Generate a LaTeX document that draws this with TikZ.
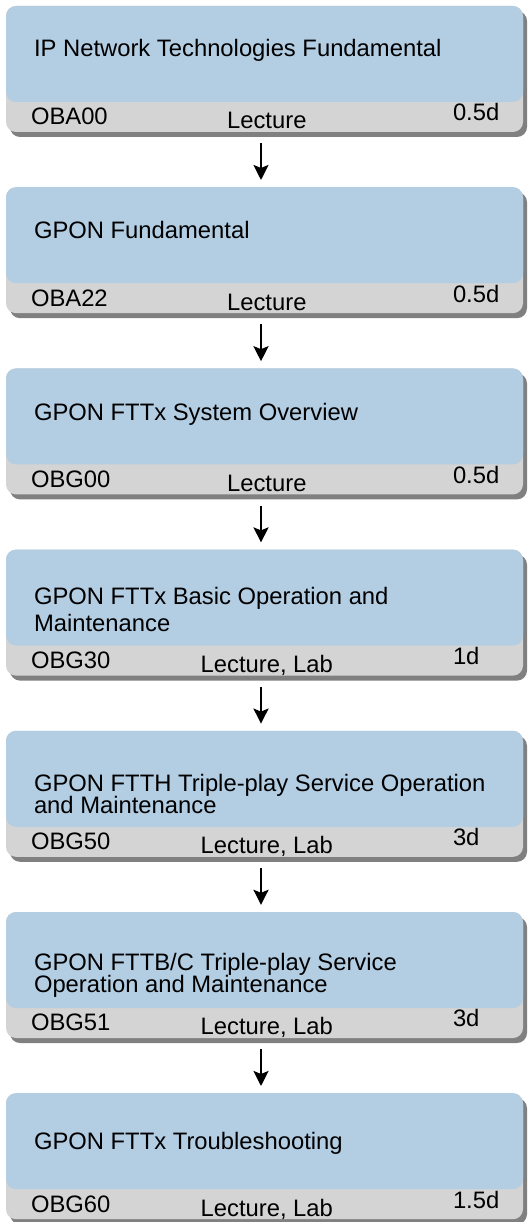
\documentclass[tikz,border=0pt]{standalone}
\usepackage{fontspec}
\setmainfont{Liberation Sans}
\usetikzlibrary{arrows.meta, shadows, positioning}
\definecolor{CourseBlue}{RGB}{179,205,227}
\definecolor{BarGrey}{RGB}{212,212,212}
\definecolor{ShadowGrey}{RGB}{128,128,128}

\begin{document}
\begin{tikzpicture}[x=1pt, y=1pt,
    course/.style={rectangle, rounded corners=10pt, fill=BarGrey,
        minimum width=517pt, minimum height=126pt, inner sep=0pt,
        drop shadow={shadow xshift=4pt, shadow yshift=-5pt, fill=ShadowGrey, opacity=1},
        path picture={\fill[CourseBlue] (path picture bounding box.north west)
            rectangle ([yshift=30pt]path picture bounding box.south east);}},
    txt/.style={inner sep=0pt, font=\fontsize{23.8}{27}\selectfont},
    flow/.style={-{Stealth[length=15pt, width=15pt, inset=3pt]}, line width=2.5pt,
        shorten <=11pt, shorten >=7pt}]
  \useasboundingbox (0,0) rectangle (530,-1222);

  % course boxes (\tb = baseline of the last title line)
  \foreach \i/\ttl/\tb/\code/\mode/\dur in {
      0/{IP Network Technologies Fundamental}/51/OBA00/Lecture/0.5d,
      1/{GPON Fundamental}/52/OBA22/Lecture/0.5d,
      2/{GPON FTTx System Overview}/52/OBG00/Lecture/0.5d,
      3/{GPON FTTx Basic Operation and\\Maintenance}/82/OBG30/{Lecture, Lab}/1d,
      4/{GPON FTTH Triple-play Service Operation\\[-5pt]and Maintenance}/83/OBG50/{Lecture, Lab}/3d,
      5/{GPON FTTB/C Triple-play Service\\[-5pt]Operation and Maintenance}/81/OBG51/{Lecture, Lab}/3d,
      6/{GPON FTTx Troubleshooting}/56/OBG60/{Lecture, Lab}/1.5d}{
    \node[course] (box\i) at (264.5,-69-181.2*\i) {};
    \node[txt, anchor=base west, align=left] (title\i)
        at ([shift={(28,-\tb)}]box\i.north west) {\ttl};
    \node[txt, anchor=base west] (code\i)
        at ([shift={(25,-119)}]box\i.north west) {\code};
    \node[txt, anchor=base] (mode\i)
        at ([shift={(261,-123)}]box\i.north west) {\mode};
    \node[txt, anchor=base west] (dur\i)
        at ([shift={(447,-115)}]box\i.north west) {\dur};
  }

  % sequence arrows
  \foreach \i [evaluate=\i as \j using int(\i+1)] in {0,...,5}
    \draw[flow] ([xshift=-3.5pt]box\i.south) -- ([xshift=-3.5pt]box\j.north);
\end{tikzpicture}
\end{document}
